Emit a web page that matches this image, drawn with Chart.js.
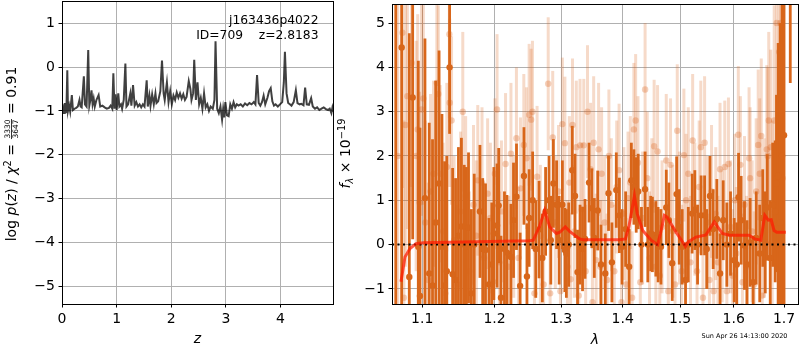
<!DOCTYPE html>
<html><head><meta charset="utf-8">
<script src="https://cdn.jsdelivr.net/npm/chart.js@4/dist/chart.umd.min.js"></script>
<style>
html,body{margin:0;padding:0;background:#fff}
#wrap{position:relative;width:800px;height:350px;overflow:hidden;background:#fff}
canvas{position:absolute;top:0}
</style>
</head><body>
<div id="wrap">
<canvas id="pz" width="340" height="350" style="left:0"></canvas>
<canvas id="sp" width="468" height="350" style="left:334px"></canvas>
</div>
<script>
// ---------- p(z) panel ----------
const pzZ = [0.00,0.01,0.02,0.03,0.04,0.05,0.06,0.07,0.08,0.097,0.11,0.13,0.15,0.18,0.20,0.23,0.26,0.29,0.32,0.34,0.36,0.40,0.42,0.45,0.48,0.50,0.52,0.54,0.56,0.58,0.60,0.63,0.67,0.70,0.74,0.78,0.82,0.86,0.89,0.92,0.94,0.96,0.98,1.00,1.03,1.05,1.08,1.10,1.13,1.16,1.18,1.21,1.25,1.27,1.30,1.33,1.36,1.39,1.42,1.45,1.48,1.51,1.55,1.57,1.60,1.62,1.65,1.68,1.71,1.73,1.76,1.80,1.83,1.86,1.88,1.92,1.95,1.98,2.01,2.04,2.07,2.10,2.13,2.16,2.19,2.22,2.25,2.28,2.32,2.35,2.37,2.40,2.42,2.45,2.48,2.51,2.54,2.57,2.60,2.63,2.66,2.69,2.72,2.76,2.79,2.81,2.84,2.87,2.90,2.93,2.95,2.97,2.99,3.02,3.05,3.08,3.11,3.14,3.17,3.20,3.23,3.27,3.31,3.35,3.39,3.43,3.47,3.51,3.54,3.57,3.60,3.63,3.66,3.69,3.72,3.76,3.79,3.82,3.85,3.88,3.91,3.95,3.99,4.03,4.06,4.08,4.11,4.14,4.17,4.20,4.24,4.28,4.31,4.35,4.38,4.42,4.45,4.48,4.52,4.56,4.59,4.63,4.67,4.71,4.75,4.79,4.83,4.87,4.90,4.93,4.95,4.97];
const pzLogp = [-1.00,-0.85,-1.05,-0.90,-1.05,-0.82,-1.03,-0.95,-1.04,-0.07,-1.00,-0.88,-1.02,-0.64,-0.98,-0.95,-0.93,-0.90,-0.75,-0.90,-0.92,-0.21,-0.85,-0.90,0.39,-0.88,-0.75,-0.53,-0.85,-0.72,-0.90,-0.75,-0.64,-0.90,-0.88,-0.92,-0.95,-0.93,-0.88,-0.95,-0.14,-0.95,-0.62,-0.98,-0.60,-0.90,-0.85,-0.95,-0.75,0.08,-0.90,-0.85,-0.60,-0.88,-0.41,-0.88,-0.80,-0.90,-0.85,-0.92,-0.85,-0.90,-0.30,-0.90,-0.65,-0.88,-0.62,-0.85,-0.60,-0.82,-0.78,-0.55,0.15,-0.60,-0.75,-0.35,-0.80,-0.55,-0.85,-0.65,-0.75,-0.58,-0.70,-0.60,-0.72,-0.62,-0.75,-0.68,-0.32,-0.50,-0.75,-0.60,0.17,-0.75,-0.35,-0.85,-0.70,-0.95,-0.60,-0.92,-0.85,-1.00,-0.90,-0.95,-0.75,0.59,-0.95,-1.05,-0.90,-1.20,-0.95,-1.15,-0.80,-1.10,-1.12,-0.85,-0.95,-0.80,-0.92,-0.85,-0.88,-0.85,-0.90,-0.83,-0.87,-0.82,-0.85,-0.80,-0.85,-0.18,-0.82,-0.88,-0.80,-0.65,-0.85,-0.70,-0.55,-0.48,-0.78,-0.88,-0.85,-0.90,-0.85,-0.80,-0.35,0.35,-0.60,-0.82,-0.85,-0.88,-0.80,-0.53,-0.82,-0.85,-0.84,-0.87,-0.47,-0.85,-0.86,-0.71,-0.90,-0.95,-0.92,-0.98,-0.95,-0.92,-0.96,-0.98,-0.95,-1.05,-0.92,-1.02];
const pzXTicks = [0,1,2,3,4];
const pzYTicks = [-5,-4,-3,-2,-1,0,1];
const pzTitle = 'j163436p4022';
const pzSub = 'ID=709    z=2.8183';

// ---------- spectrum panel ----------
const darkWave = [1.0655,1.0731,1.0830,1.0874,1.0948,1.0970,1.1036,1.1093,1.1137,1.1180,1.1225,1.1264,1.1300,1.1330,1.1368,1.1410,1.1450,1.1490,1.1531,1.1570,1.1600,1.1630,1.1670,1.1710,1.1791,1.1830,1.1870,1.1920,1.1960,1.1990,
1.2036,1.2060,1.2093,1.2144,1.2180,1.2239,1.2277,1.2321,1.2375,1.2432,1.2477,1.2510,1.2563,1.2610,1.2660,1.2710,1.2760,1.2813,1.2840,1.2880,1.2930,1.2970,1.3020,1.3060,1.3083,1.3120,1.3176,1.3220,1.3260,1.3300,1.3340,1.3380,1.3445,1.3490,
1.3530,1.3586,1.3640,1.3710,1.3764,1.3820,1.3893,1.3945,1.3990,1.4050,1.4110,1.4147,1.4190,1.4230,1.4264,1.4320,1.4383,1.4430,1.4480,1.4510,1.4570,1.4610,1.4660,1.4754,1.4800,1.4860,1.4939,1.4985,1.5040,1.5100,1.5150,1.5220,
1.5270,1.5320,1.5386,1.5450,1.5490,1.5551,1.5610,1.5680,1.5741,1.5800,1.5870,1.5940,1.6010,1.6060,1.6095,1.6145,1.6210,1.6260,1.6320,1.6380,1.6440,1.6510,1.6570,1.6620,1.6661,1.6720,1.6770,1.6820,1.6846,1.6880,1.6920,1.6960,1.7000,1.7128];
const darkFlux = [-1.6,4.45,-0.73,3.32,-0.05,-1.16,1.05,-0.65,-0.92,0.5,1.38,-0.05,-0.92,-0.6,4.0,-0.67,-0.8,0.2,0.41,0.0,-0.05,0.38,-1.1,0.0,0.75,-0.1,-0.12,-0.9,-0.45,0.25,
0.43,0.88,-1.2,-0.1,-0.18,-0.28,0.55,1.08,-0.93,1.55,-0.72,0.6,1.0,-0.1,0.34,-0.3,0.75,1.0,0.1,1.38,0.9,0.1,0.9,-0.12,-0.2,0.0,1.68,1.1,-0.62,0.0,-0.1,0.13,1.4,0.82,
0.15,0.77,-0.45,-0.65,1.16,-0.4,1.23,0.66,-0.05,0.35,-0.5,1.45,1.3,1.12,1.2,0.0,1.25,0.0,0.25,0.23,0.13,0.0,-0.05,0.84,0.55,-0.42,1.14,0.4,-0.05,-0.8,0.0,0.7,
0.78,0.0,0.66,0.66,-0.1,1.1,0.35,0.58,-0.65,0.55,0.0,0.25,-0.35,-0.45,1.07,0.55,-0.02,-0.45,0.05,-0.85,0.15,-0.2,0.6,0.05,0.84,-0.3,0.9,0.75,1.38,1.55,0.5,2.0,2.47,7.5];
const darkErr = [7.5,6.0,5.5,3.2,4.2,3.8,3.6,3.4,3.3,3.2,3.0,3.0,2.8,2.6,1.5,2.4,2.3,2.0,2.0,1.8,1.8,1.7,1.9,1.6,1.5,1.6,1.5,1.5,1.4,1.5,
1.4,1.3,1.4,1.3,1.3,1.2,1.3,1.2,1.2,1.1,1.2,1.1,1.1,1.1,1.1,1.0,1.0,1.0,1.0,1.0,1.0,1.0,1.0,0.95,1.0,0.95,1.0,0.95,0.95,0.9,0.95,0.9,0.9,0.9,
0.9,0.9,0.9,0.9,0.85,0.9,0.85,0.85,0.85,0.85,0.85,0.85,0.85,0.85,0.85,0.85,0.85,0.85,0.85,0.85,0.85,0.85,0.85,0.85,0.85,0.85,0.85,0.85,0.85,0.85,0.85,0.9,
0.9,0.9,0.9,0.9,0.9,0.9,0.9,0.9,0.9,0.9,0.95,0.95,0.95,0.95,1.0,1.0,1.0,1.0,1.0,1.05,1.05,1.1,1.1,1.15,1.2,1.3,1.4,1.6,2.0,3.0,4.5,5.0,5.0,3.85];

const lightWave = [1.068,1.0741,1.076,1.078,1.0805,1.086,1.092,1.094,1.0965,1.099,1.1015,1.104,1.108,1.111,1.115,1.1195,1.1215,1.124,1.128,1.131,1.133,1.1365,1.137,1.1395,1.143,1.148,1.152,1.155,1.159,1.164,1.170,1.174,1.176,1.182,1.185,1.190,1.194,1.198,
1.2005,1.2036,1.207,1.210,1.216,1.2205,1.2239,1.228,1.232,1.235,1.238,1.243,1.247,1.251,1.254,1.256,1.259,1.263,1.268,1.273,1.280,1.283,1.287,1.291,1.296,1.299,1.302,1.306,1.310,1.313,1.315,1.318,1.321,1.324,1.328,1.330,1.333,1.336,1.339,1.342,1.347,
1.350,1.352,1.356,1.360,1.363,1.365,1.370,1.374,1.377,1.381,1.386,1.390,1.394,1.398,1.402,1.406,1.409,1.413,1.416,1.419,1.422,1.426,1.430,1.434,1.4383,1.442,1.446,1.450,1.454,1.457,1.460,1.464,1.468,1.4754,1.479,1.483,1.487,1.491,1.495,1.499,1.503,1.507,1.511,1.515,1.519,
1.523,1.527,1.531,1.535,1.538,1.542,1.545,1.550,1.554,1.558,1.562,1.566,1.570,1.574,1.578,1.583,1.587,1.590,1.594,1.598,1.602,1.605,1.609,1.613,1.617,1.621,1.625,1.630,1.632,1.636,1.640,1.644,1.648,1.651,1.654,1.656,1.660,1.665,1.667,1.669,1.673,1.676,1.680,1.685,1.690,1.693,1.697];
const lightFlux = [2.0,4.78,-1.2,2.7,3.35,4.1,2.0,2.6,0.95,3.05,3.3,0.5,-0.8,1.2,1.6,3.65,3.4,1.6,0.3,-1.1,1.75,4.75,3.2,2.8,0.1,-0.9,0.75,3.0,1.1,-0.6,0.9,0.2,1.45,1.4,-0.3,1.15,0.6,-0.84,
1.6,3.05,-0.4,0.75,1.82,-0.5,2.05,0.4,2.4,-0.3,1.27,2.25,1.95,2.93,2.82,3.0,-1.1,1.53,0.2,-0.9,3.63,-1.1,2.42,0.5,1.2,-1.05,2.72,2.29,-0.5,1.4,-0.78,2.7,0.3,2.2,-1.15,2.24,0.8,2.24,-0.6,3.0,1.7,
-1.3,2.3,-0.35,2.15,-0.5,1.6,0.5,-0.8,2.0,0.9,-0.6,1.3,1.68,-1.3,0.7,-0.9,1.05,1.4,-1.2,2.6,2.8,1.85,-0.85,0.6,3.5,1.5,-0.3,0.9,2.22,-0.5,2.1,-0.7,0.4,1.9,-1.05,1.8,0.3,-0.9,2.57,0.6,-0.6,2.02,1.0,1.6,-0.4,
2.35,0.8,-0.6,1.3,2.2,-1.2,2.3,0.5,-0.8,1.2,-1.05,0.7,-0.4,1.7,0.2,1.75,-1.05,1.82,0.4,-0.7,1.0,-0.2,2.48,1.8,-0.85,0.9,-0.5,1.95,1.5,0.3,-0.9,1.2,2.25,1.6,2.45,-1.15,0.6,2.15,2.0,2.8,2.2,0.4,2.8,5.0,4.35,5.0,1.5];
const lightErr = [4.5,3.5,4.0,3.2,3.0,2.8,2.6,2.6,2.5,2.4,2.4,2.3,2.2,2.2,2.1,2.0,2.0,2.0,2.0,2.0,1.9,1.9,1.9,1.9,1.9,1.8,1.8,1.8,1.8,1.8,1.8,1.7,1.7,1.7,1.7,1.7,1.7,1.7,
1.7,1.7,1.6,1.6,1.6,1.6,1.6,1.6,1.6,1.6,1.6,1.6,1.6,1.6,1.6,1.6,1.6,1.6,1.6,1.5,1.5,1.5,1.5,1.5,1.5,1.5,1.5,1.5,1.5,1.5,1.5,1.5,1.5,1.5,1.5,1.5,1.5,1.5,1.5,1.5,1.5,
1.5,1.5,1.5,1.5,1.5,1.5,1.5,1.5,1.5,1.5,1.5,1.5,1.5,1.5,1.5,1.5,1.5,1.5,1.5,1.5,1.5,1.5,1.5,1.5,1.5,1.5,1.5,1.5,1.5,1.5,1.5,1.5,1.5,1.5,1.5,1.5,1.5,1.5,1.5,1.5,1.5,1.5,1.5,1.5,1.5,
1.5,1.5,1.5,1.5,1.5,1.5,1.5,1.5,1.5,1.5,1.5,1.5,1.5,1.5,1.5,1.5,1.5,1.5,1.5,1.5,1.5,1.5,1.55,1.55,1.55,1.55,1.6,1.6,1.6,1.6,1.65,1.65,1.7,1.7,1.75,1.75,1.8,1.9,2.0,2.0,2.2,2.4,2.6,3.5,4.0,4.5,5.0];

const modelWave = [1.0722,1.0774,1.0839,1.0917,1.1013,1.1555,1.2518,1.2573,1.2669,1.2746,1.2823,1.2926,1.2980,1.3066,1.3134,1.3293,1.3346,1.3946,1.4047,1.4104,1.4199,1.4247,1.4342,1.4487,1.4602,1.4651,1.4720,1.4769,1.4928,1.5047,1.5098,1.5148,1.5291,1.5475,1.5630,1.5786,1.5915,1.6301,1.6411,1.6531,1.6611,1.6682,1.6739,1.6796,1.6852,1.7036];
const modelFlux = [-0.84,-0.28,-0.09,0.02,0.04,0.06,0.09,0.10,0.42,0.77,0.40,0.25,0.28,0.40,0.30,0.13,0.11,0.11,0.13,0.40,1.10,0.70,0.32,0.10,0.00,0.25,0.66,0.62,0.28,0.06,-0.04,0.06,0.17,0.22,0.51,0.25,0.21,0.21,0.13,0.10,0.66,0.55,0.56,0.32,0.28,0.28];

const specXTicks = [1.1,1.2,1.3,1.4,1.5,1.6,1.7];
const specYTicks = [-1,0,1,2,3,4,5];
const specXRange = [1.0607, 1.7288];
const specYRange = [-1.34, 5.43];
const stamp = 'Sun Apr 26 14:13:00 2020';

// ---------- helpers ----------
const FONT = '"DejaVu Sans"';
const FAM = 'DejaVu Sans';
const minusFmt = v => (v < 0 ? '\u2212' + Math.abs(v) : String(v));
function fixAxis(size) {
  return function (scale) {
    if (scale.isHorizontal()) scale.height = size; else scale.width = size;
    scale.paddingLeft = 0; scale.paddingRight = 0; scale.paddingTop = 0; scale.paddingBottom = 0;
  };
}
function setTicks(vals) { return function (scale) { scale.ticks = vals.map(v => ({ value: v })); }; }

const framePlugin = {
  id: 'frame',
  afterDraw(chart) {
    const a = chart.chartArea, ctx = chart.ctx;
    ctx.save(); ctx.strokeStyle = '#000'; ctx.lineWidth = 1;
    ctx.strokeRect(a.left + 0.5, a.top + 0.5, a.right - a.left, a.bottom - a.top);
    ctx.restore();
  }
};

function drawSegs(ctx, segs) {
  let W = 0;
  segs.forEach(s => {
    if (s.frac) {
      ctx.font = s.s + 'px ' + FONT;
      s.w = Math.max(ctx.measureText(s.frac[0]).width, ctx.measureText(s.frac[1]).width) + 2;
    } else {
      ctx.font = (s.i ? 'italic ' : '') + s.s + 'px ' + FONT;
      s.w = ctx.measureText(s.t).width;
    }
    W += s.w;
  });
  let x = -W / 2;
  ctx.textBaseline = 'alphabetic';
  segs.forEach(s => {
    if (s.frac) {
      ctx.font = s.s + 'px ' + FONT;
      ctx.textAlign = 'center';
      ctx.fillText(s.frac[0], x + s.w / 2, -6);
      ctx.fillText(s.frac[1], x + s.w / 2, 1.8);
      ctx.fillRect(x + 0.5, -4.9, s.w - 1, 0.8);
    } else {
      ctx.font = (s.i ? 'italic ' : '') + s.s + 'px ' + FONT;
      ctx.textAlign = 'left';
      ctx.fillText(s.t, x, s.dy || 0);
    }
    x += s.w;
  });
}

const pzText = {
  id: 'pzText',
  afterDraw(chart) {
    const ctx = chart.ctx;
    ctx.save();
    ctx.fillStyle = '#000';
    ctx.font = '12.3px ' + FONT;
    ctx.textAlign = 'right'; ctx.textBaseline = 'alphabetic';
    ctx.fillText(pzTitle, 318.5, 24);
    ctx.fillText(pzSub, 318.5, 39);
    ctx.translate(16, 154); ctx.rotate(-Math.PI / 2);
    drawSegs(ctx, [
      { t: 'log ', s: 14 }, { t: 'p', s: 14, i: true }, { t: '(', s: 14 }, { t: 'z', s: 14, i: true },
      { t: ') / ', s: 14 }, { t: '\u03c7', s: 14, i: true }, { t: '2', s: 9.8, dy: -5.5 },
      { t: ' = ', s: 14 }, { frac: ['3330', '3647'], s: 7.5 }, { t: ' = 0.91', s: 14 }
    ]);
    ctx.restore();
  }
};

const specText = {
  id: 'specText',
  afterDraw(chart) {
    const ctx = chart.ctx;
    ctx.save();
    ctx.fillStyle = '#000';
    ctx.font = '6.5px ' + FONT;
    ctx.textAlign = 'right'; ctx.textBaseline = 'alphabetic';
    ctx.fillText(stamp, 453.5, 338);
    ctx.translate(16, 153.5); ctx.rotate(-Math.PI / 2);
    drawSegs(ctx, [
      { t: 'f', s: 14, i: true }, { t: '\u03bb', s: 9.8, i: true, dy: 3 },
      { t: ' \u00d7 10', s: 14 }, { t: '\u221219', s: 9.8, dy: -5.5 }
    ]);
    ctx.restore();
  }
};

const errPlugin = {
  id: 'errbars',
  beforeDatasetDraw(chart, args) {
    const ds = chart.data.datasets[args.index];
    if (!ds.errs) return;
    const ctx = chart.ctx, a = chart.chartArea, xs = chart.scales.x, ys = chart.scales.y;
    ctx.save();
    ctx.beginPath(); ctx.rect(a.left, a.top, a.right - a.left, a.bottom - a.top); ctx.clip();
    ctx.strokeStyle = ds.errColor; ctx.lineWidth = ds.errWidth; ctx.lineCap = 'butt';
    ds.data.forEach((p, i) => {
      const px = xs.getPixelForValue(p.x);
      ctx.beginPath();
      ctx.moveTo(px, ys.getPixelForValue(p.y - ds.errs[i]));
      ctx.lineTo(px, ys.getPixelForValue(p.y + ds.errs[i]));
      ctx.stroke();
    });
    ctx.restore();
  }
};

const tickFont = { family: FAM, size: 14 };

// ---------- left chart ----------
new Chart(document.getElementById('pz'), {
  type: 'line',
  data: { datasets: [{
    data: pzZ.map((z, i) => ({ x: z, y: pzLogp[i] })),
    borderColor: 'rgba(0,0,0,0.75)', borderWidth: 2, pointRadius: 0, tension: 0, fill: false
  }] },
  options: {
    responsive: false, animation: false, devicePixelRatio: 1,
    layout: { padding: { left: 0, right: 7, top: 1, bottom: 0 } },
    plugins: { legend: { display: false }, tooltip: { enabled: false } },
    scales: {
      x: {
        type: 'linear', min: 0, max: 4.96,
        afterFit: fixAxis(46), afterBuildTicks: setTicks(pzXTicks),
        grid: { color: '#b0b0b0', tickColor: '#000', tickLength: 3.5, lineWidth: 1 },
        border: { display: false },
        ticks: { padding: 3, color: '#000', font: tickFont, maxRotation: 0, autoSkip: false, callback: v => minusFmt(v) },
        title: { display: true, text: 'z', color: '#000', font: { family: FAM, size: 14, style: 'italic' }, padding: { top: 0, bottom: 2 } }
      },
      y: {
        type: 'linear', min: -5.41, max: 1.51,
        afterFit: fixAxis(62), afterBuildTicks: setTicks(pzYTicks),
        grid: { color: '#b0b0b0', tickColor: '#000', tickLength: 3.5, lineWidth: 1 },
        border: { display: false },
        ticks: { padding: 3.5, color: '#000', font: tickFont, autoSkip: false, callback: v => minusFmt(v) }
      }
    }
  },
  plugins: [framePlugin, pzText]
});

// ---------- right chart ----------
const DARK = 'rgb(216,102,26)';
new Chart(document.getElementById('sp'), {
  type: 'scatter',
  data: { datasets: [
    { data: modelWave.map((w, i) => ({ x: w, y: modelFlux[i] })), showLine: true,
      borderColor: 'rgba(255,25,0,0.72)', borderWidth: 3, pointRadius: 0, tension: 0, order: 0 },
    { data: specXRange.map(w => ({ x: w, y: 0 })), showLine: true,
      borderColor: '#000', borderWidth: 2, borderDash: [2, 3.5], pointRadius: 0, order: 1 },
    { data: darkWave.map((w, i) => ({ x: w, y: darkFlux[i] })), errs: darkErr,
      errColor: DARK, errWidth: 2.8, pointRadius: 3.2, pointBorderWidth: 0,
      backgroundColor: DARK, borderColor: DARK, order: 2 },
    { data: lightWave.map((w, i) => ({ x: w, y: lightFlux[i] })), errs: lightErr,
      errColor: 'rgba(217,100,30,0.24)', errWidth: 3, pointRadius: 3.2, pointBorderWidth: 0,
      backgroundColor: 'rgba(217,100,30,0.3)', borderColor: 'rgba(217,100,30,0.3)', order: 3 }
  ] },
  options: {
    responsive: false, animation: false, devicePixelRatio: 1,
    layout: { padding: { left: 0, right: 3, top: 1, bottom: 0 } },
    plugins: { legend: { display: false }, tooltip: { enabled: false } },
    scales: {
      x: {
        type: 'logarithmic', min: specXRange[0], max: specXRange[1],
        afterFit: fixAxis(46), afterBuildTicks: setTicks(specXTicks),
        grid: { color: '#b0b0b0', tickColor: '#000', tickLength: 3.5, lineWidth: 1 },
        border: { display: false },
        ticks: { padding: 3, color: '#000', font: tickFont, maxRotation: 0, autoSkip: false, callback: v => Number(v).toFixed(1) },
        title: { display: true, text: '\u03bb', color: '#000', font: { family: FAM, size: 14, style: 'italic' }, padding: { top: 0, bottom: 1 } }
      },
      y: {
        type: 'linear', min: specYRange[0], max: specYRange[1],
        afterFit: fixAxis(58), afterBuildTicks: setTicks(specYTicks),
        grid: { color: '#b0b0b0', tickColor: '#000', tickLength: 3.5, lineWidth: 1 },
        border: { display: false },
        ticks: { padding: 3.5, color: '#000', font: tickFont, autoSkip: false, callback: v => minusFmt(v) }
      }
    }
  },
  plugins: [errPlugin, framePlugin, specText]
});
</script>
</body></html>
